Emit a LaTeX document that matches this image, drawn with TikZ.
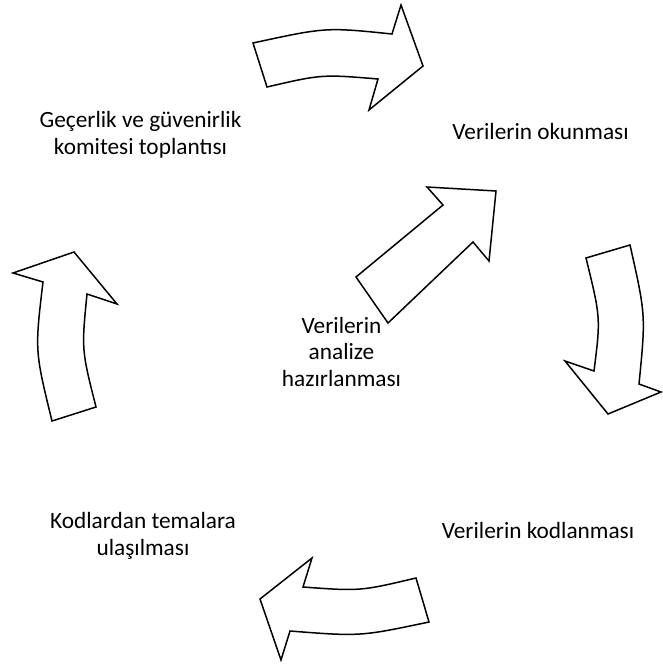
\documentclass[tikz,border=0pt]{standalone}
\usepackage{fontspec}
\setmainfont{Carlito}
\usepackage{tikz}
\tikzset{
  blockarrow/.style={draw=black, line width=1.5pt, fill=white, line join=miter},
  steptext/.style={align=center, anchor=base, inner sep=0pt,
    font=\fontsize{23.3}{26.3}\selectfont}
}

\begin{document}
\begin{tikzpicture}[x=1pt, y=-1pt]
    \useasboundingbox (0,0) rectangle (662,664);

    % Curved block arrows round the cycle
    \draw[blockarrow] (253,43) .. controls (325.8,27.2) .. (392,34) -- (401,5) -- (423,66)
        -- (369,110) -- (378,79) .. controls (321.8,74.3) .. (267,87) -- cycle;
    \draw[blockarrow] (586,258) .. controls (600.7,317.8) .. (594,371) -- (565,361) -- (608,414)
        -- (661,392) -- (639,384) .. controls (645.8,315.2) .. (630,245) -- cycle;
    \draw[blockarrow] (260,599) -- (312,558) -- (303,587) .. controls (360.2,591.2) .. (416,578)
        -- (429,622) .. controls (360.2,636.5) .. (290,631) -- (281,660) -- cycle;
    \draw[blockarrow] (74,252) -- (117,304) -- (87,294) .. controls (81.5,349.8) .. (96,407)
        -- (52,421) .. controls (34.8,350.8) .. (43,282) -- (13,273) -- cycle;

    % Straight arrow out of the centre
    \draw[blockarrow] (356,277) -- (443,205) -- (427,187) -- (496,191) -- (489,261)
        -- (473,242) -- (388,323) -- cycle;

    % Step labels (base = last line)
    \node[steptext] (komite) at (140.5,154) {Geçerlik ve güvenirlik\\komitesi toplantısı};
    \node[steptext] (okunma) at (540.5,139) {Verilerin okunması};
    \node[steptext] (hazirlik) at (341.5,386) {Verilerin\\analize\\hazırlanması};
    \node[steptext] (tema) at (143,555) {Kodlardan temalara\\ulaşılması};
    \node[steptext] (kodlama) at (538,538) {Verilerin kodlanması};
\end{tikzpicture}
\end{document}
